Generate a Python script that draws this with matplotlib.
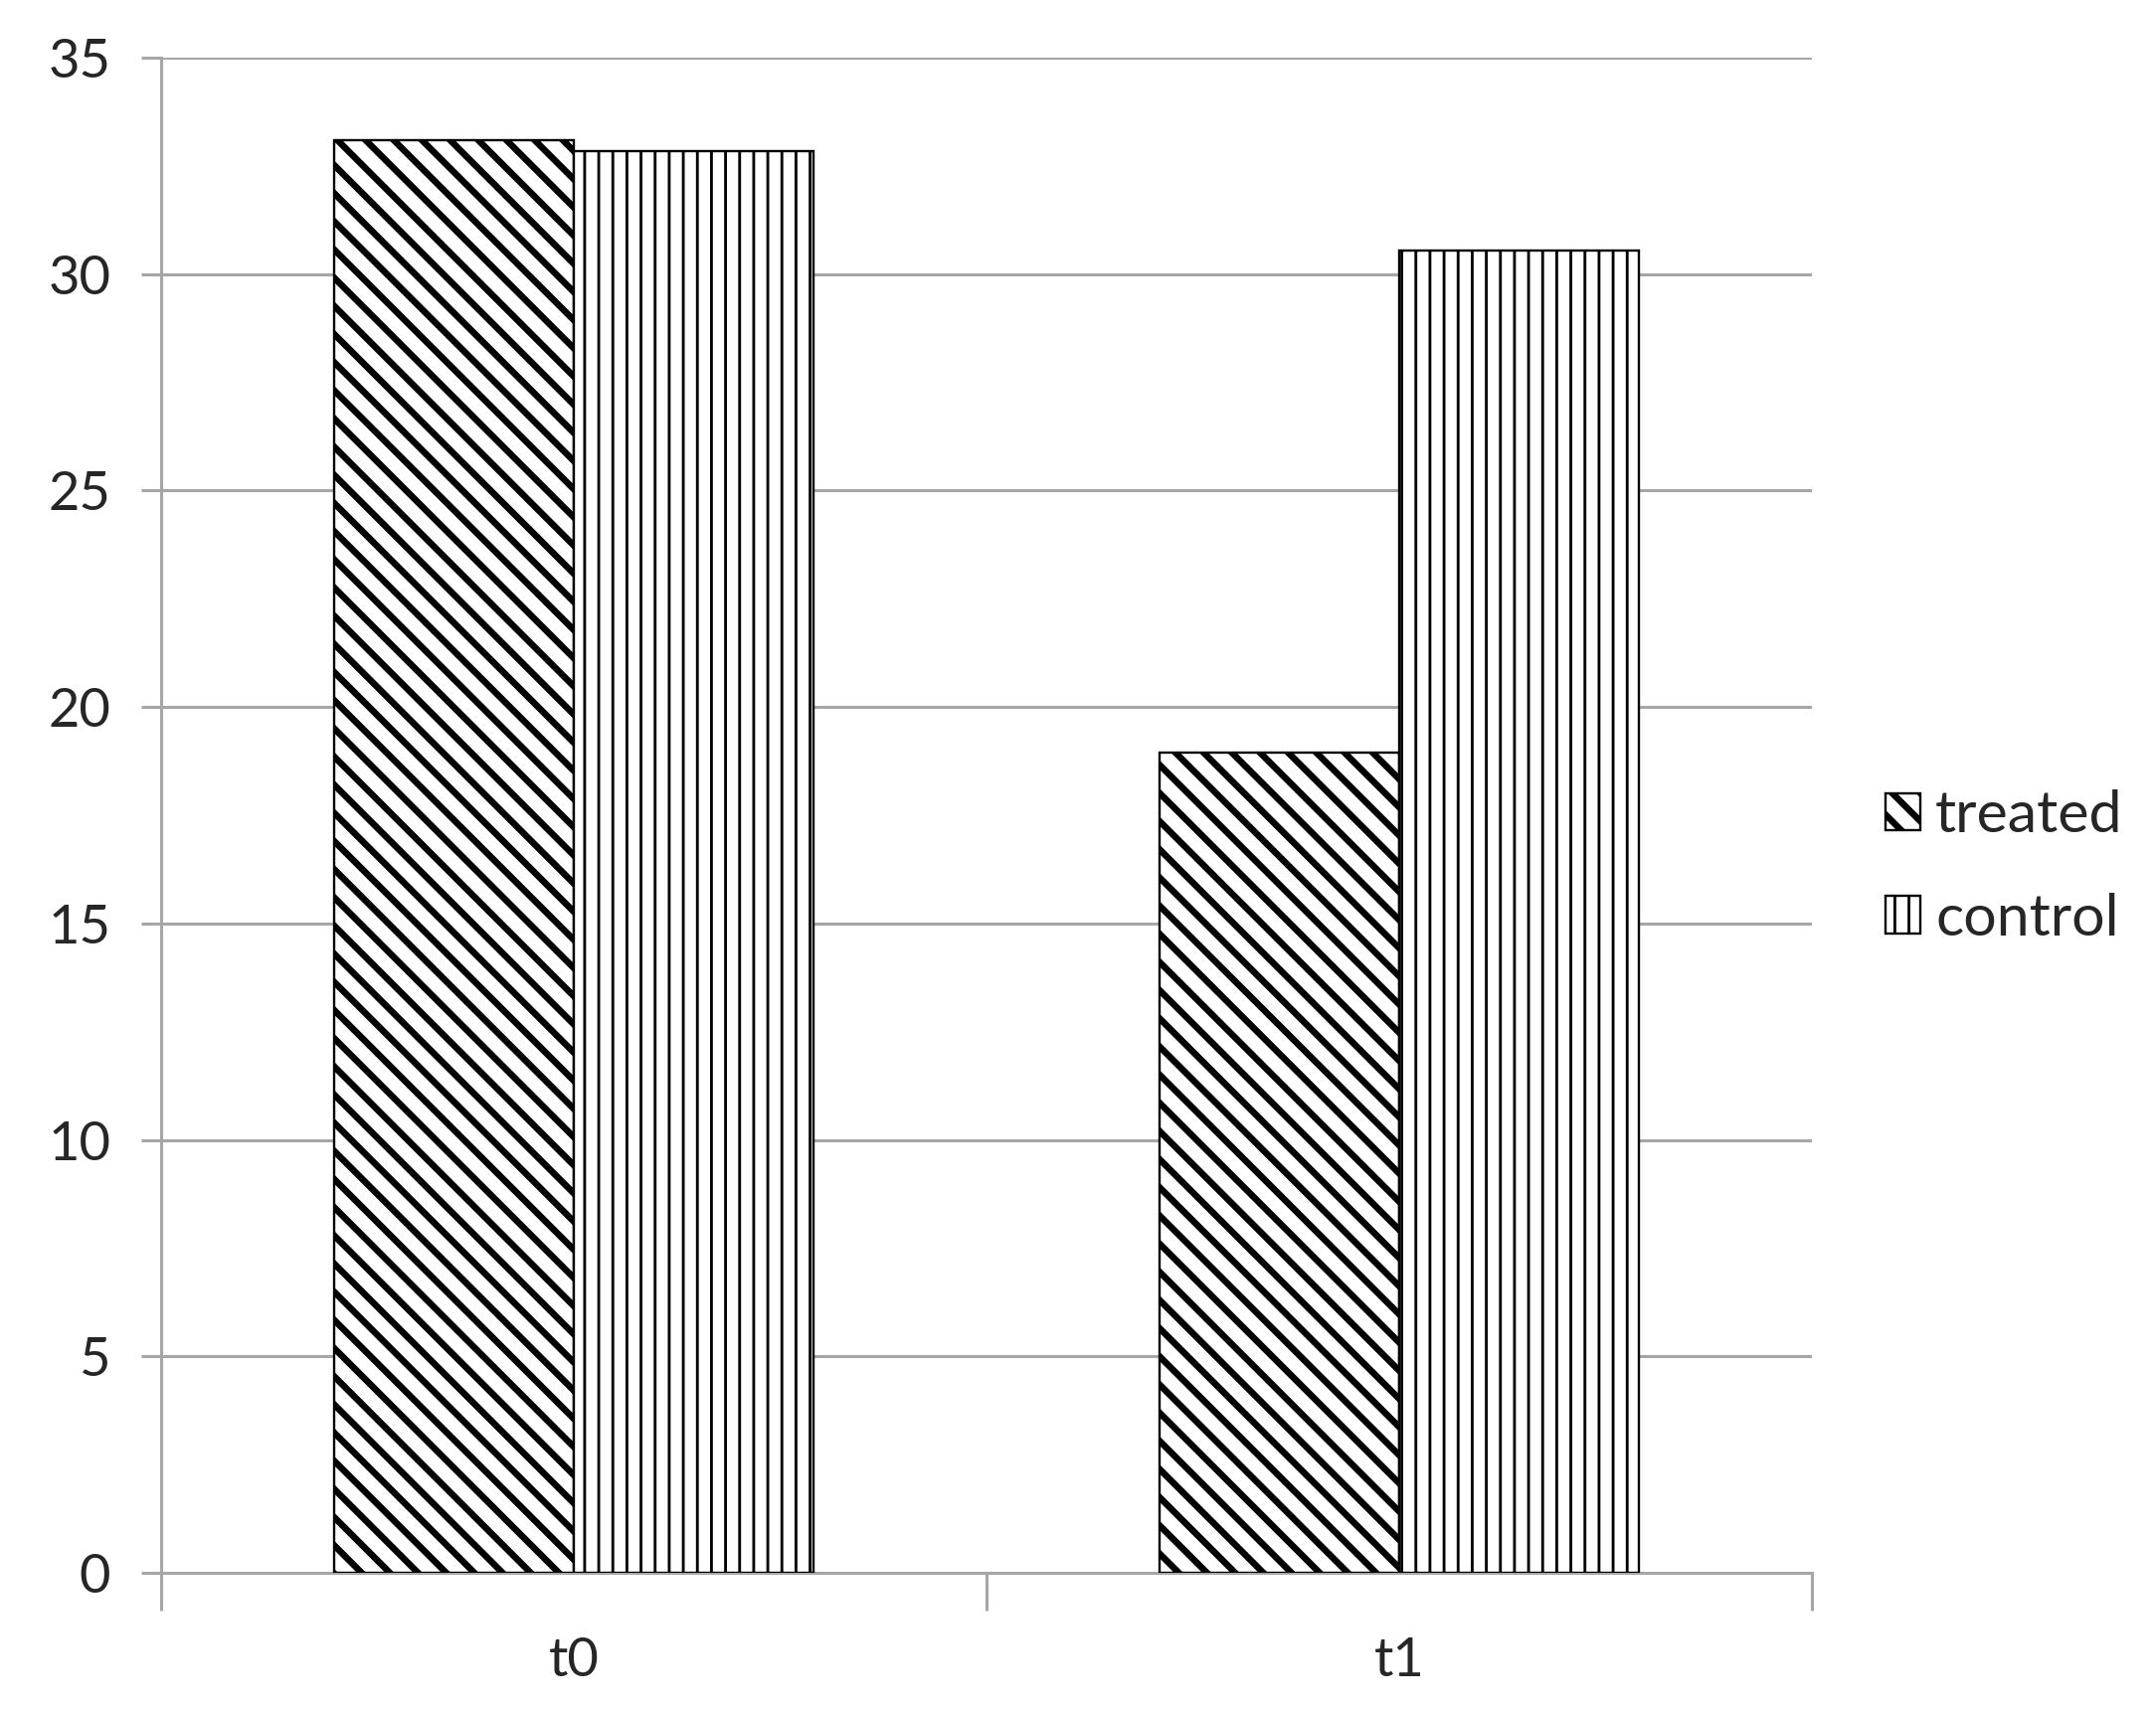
import matplotlib.pyplot as plt
import numpy as np

categories = ['t0', 't1']
treated = [33.1, 18.95]
control = [32.85, 30.55]
series_names = ['treated', 'control']

DPI = 170
plt.rcParams['font.family'] = ['Lato', 'DejaVu Sans']

fig = plt.figure(figsize=(2168 / DPI, 1721 / DPI), dpi=DPI)
ax = fig.add_axes([0.0747, 0.0808, 0.7657, 0.8855])

x = np.arange(len(categories))
w = 0.29
grid_color = '#a6a6a6'
text_color = '#262626'

plt.rcParams['hatch.linewidth'] = 2.8
b1 = ax.bar(x - w / 2, treated, w, facecolor='white', edgecolor='black',
            linewidth=1.0, hatch='\\\\', label=series_names[0], zorder=3)
plt.rcParams['hatch.linewidth'] = 1.2
b2 = ax.bar(x + w / 2, control, w, facecolor='white', edgecolor='black',
            linewidth=1.0, hatch='||', label=series_names[1], zorder=3)

# per-bar hatch widths (matplotlib >= 3.10)
for bars, hw in [(b1, 2.8), (b2, 1.2)]:
    for p in bars:
        if hasattr(p, 'set_hatch_linewidth'):
            p.set_hatch_linewidth(hw)

ax.set_xlim(-0.5, len(categories) - 0.5)
ax.set_ylim(0, 35)
ax.set_yticks(np.arange(0, 36, 5))
ax.yaxis.grid(True, color=grid_color, linewidth=1.3)
ax.set_axisbelow(True)

ax.set_xticks(x)
ax.set_xticklabels(categories, fontsize=23, color=text_color)
ax.set_xticks(np.arange(-0.5, len(categories), 1.0), minor=True)
ax.tick_params(axis='x', which='major', length=0, pad=27)
ax.tick_params(axis='x', which='minor', length=16, width=1.3, color=grid_color)
ax.tick_params(axis='y', length=8.5, width=1.3, color=grid_color,
               labelsize=23, labelcolor=text_color, pad=13)

for side in ['top', 'right']:
    ax.spines[side].set_visible(False)
for side in ['left', 'bottom']:
    ax.spines[side].set_color(grid_color)
    ax.spines[side].set_linewidth(1.3)

leg = fig.legend(handles=[b1, b2], loc='center left', bbox_to_anchor=(0.85, 0.493),
                 frameon=False, fontsize=25, handlelength=0.6, handleheight=0.6,
                 handletextpad=0.25, labelspacing=0.85, labelcolor=text_color)
for h, hw in zip(leg.legend_handles, [2.8, 1.2]):
    if hasattr(h, 'set_hatch_linewidth'):
        h.set_hatch_linewidth(hw)

fig.savefig('out.png', dpi=DPI, facecolor='white')
